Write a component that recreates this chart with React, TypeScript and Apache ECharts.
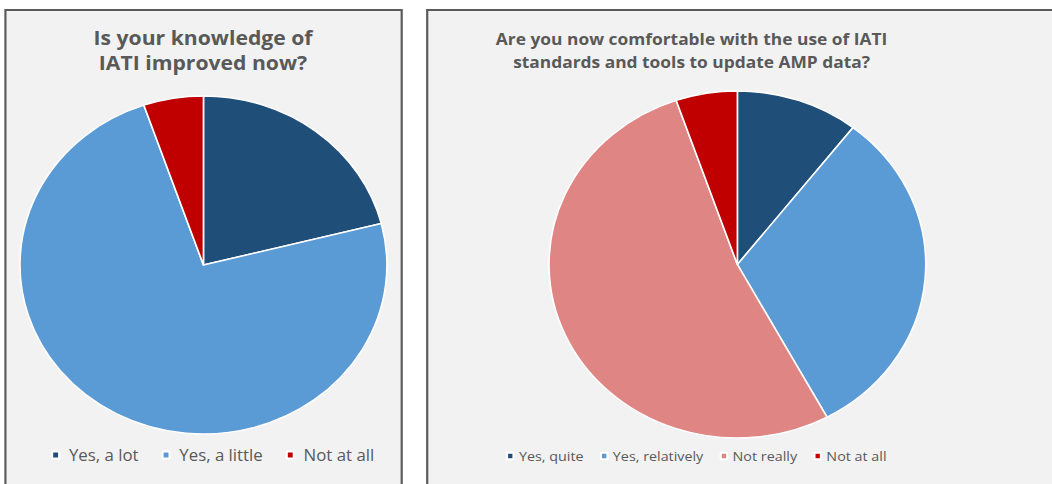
import React, { useEffect, useRef } from "react";
import * as echarts from "echarts";

// Data
const leftTitle = "Is your knowledge of\nIATI improved now?";
const leftCategories = ["Yes, a lot", "Yes, a little", "Not at all"];
const leftValues = [4, 14, 1];
const leftColors = ["#1f4e79", "#5b9bd5", "#c00000"];

const rightTitle = "Are you now comfortable with the use of IATI\nstandards and tools to update AMP data?";
const rightCategories = ["Yes, quite", "Yes, relatively", "Not really", "Not at all"];
const rightValues = [2, 6, 10, 1];
const rightColors = ["#1f4e79", "#5b9bd5", "#df8583", "#c00000"];

// The reference image is stretched horizontally; draw in a narrower box and scale.
const W = 969;
const H = 484;
const SX = 1052 / W;

const FONT = "'Open Sans', 'DejaVu Sans', sans-serif";
const GREY = "#595959";

export default function App() {
  const ref = useRef<HTMLDivElement>(null);

  useEffect(() => {
    if (!ref.current) return;
    const chart = echarts.init(ref.current, null, { renderer: "svg" });

    const mk = (names: string[], vals: number[], cols: string[]) =>
      names.map((n, i) => ({ name: n, value: vals[i], itemStyle: { color: cols[i] } }));

    const pieBase = {
      type: "pie",
      startAngle: 90,
      clockwise: true,
      label: { show: false },
      labelLine: { show: false },
      emphasis: { disabled: true },
      itemStyle: { borderColor: "#ffffff", borderWidth: 1.5 },
      silent: true,
    };

    chart.setOption({
      animation: false,
      backgroundColor: "#ffffff",
      textStyle: { fontFamily: FONT },
      graphic: [
        {
          type: "rect",
          shape: { x: 5, y: 10, width: 365, height: 520 },
          style: { fill: "#f2f2f2", stroke: "#5a5a5a", lineWidth: 2 },
          z: -10,
        },
        {
          type: "rect",
          shape: { x: 393.5, y: 10, width: 620, height: 520 },
          style: { fill: "#f2f2f2", stroke: "#5a5a5a", lineWidth: 2 },
          z: -10,
        },
      ],
      title: [
        {
          text: leftTitle,
          left: 187,
          top: 25,
          padding: 0,
          textAlign: "center",
          textStyle: {
            fontFamily: FONT,
            fontSize: 19.5,
            fontWeight: "bold",
            color: GREY,
            lineHeight: 25,
          },
        },
        {
          text: rightTitle,
          left: 637,
          top: 27,
          padding: 0,
          textAlign: "center",
          textStyle: {
            fontFamily: FONT,
            fontSize: 16,
            fontWeight: "bold",
            color: GREY,
            lineHeight: 23,
          },
        },
      ],
      legend: [
        {
          data: leftCategories,
          left: 47,
          top: 447,
          padding: 0,
          orient: "horizontal",
          icon: "rect",
          itemWidth: 6.5,
          itemHeight: 7,
          itemGap: 21,
          selectedMode: false,
          textStyle: {
            fontFamily: FONT,
            fontSize: 15.5,
            color: GREY,
            lineHeight: 16,
            padding: [0, 0, 0, 4],
          },
        },
        {
          data: rightCategories,
          left: 466,
          top: 448,
          padding: 0,
          orient: "horizontal",
          icon: "rect",
          itemWidth: 6,
          itemHeight: 6.5,
          itemGap: 15,
          selectedMode: false,
          textStyle: {
            fontFamily: FONT,
            fontSize: 13.2,
            color: GREY,
            lineHeight: 16,
          },
        },
      ],
      series: [
        {
          ...pieBase,
          name: "knowledge",
          center: [187.4, 265],
          radius: 169,
          data: mk(leftCategories, leftValues, leftColors),
        },
        {
          ...pieBase,
          name: "comfortable",
          center: [679.2, 264.5],
          radius: 173.5,
          data: mk(rightCategories, rightValues, rightColors),
        },
      ],
    });

    return () => chart.dispose();
  }, []);

  return (
    <div
      style={{
        position: "fixed",
        left: 0,
        top: 0,
        width: 1052,
        height: H,
        overflow: "hidden",
        background: "#ffffff",
      }}
    >
      <div
        ref={ref}
        style={{
          width: W,
          height: H,
          transform: `scaleX(${SX})`,
          transformOrigin: "0 0",
        }}
      />
    </div>
  );
}
